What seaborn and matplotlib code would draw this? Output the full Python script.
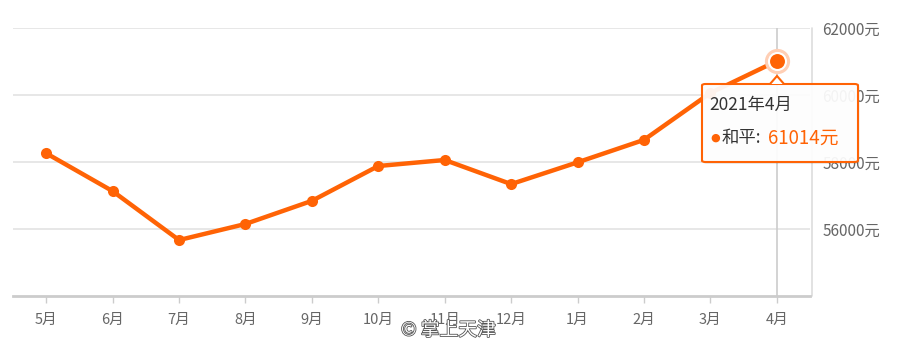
import numpy as np
import pandas as pd
import matplotlib
matplotlib.use("Agg")
import matplotlib.pyplot as plt
import matplotlib.patheffects as pe
from matplotlib.patches import FancyBboxPatch, Polygon
import seaborn as sns

months = ["5月", "6月", "7月", "8月", "9月", "10月", "11月", "12月", "1月", "2月", "3月", "4月"]
prices = [58260, 57130, 55670, 56150, 56840, 57880, 58060, 57340, 57990, 58660, 60060, 61014]
y_ticks = [56000, 58000, 60000, 62000]
y_labels = ["56000元", "58000元", "60000元", "62000元"]
tooltip_title = "2021年4月"
series_name = "和平"

sns.set_theme(style="white")
plt.rcParams["font.family"] = ["Noto Sans CJK SC", "DejaVu Sans"]

ORANGE = "#ff6305"
GRID = "#e3e3e3"
TXT = "#666666"

fig = plt.figure(figsize=(9, 3.44), dpi=100)
ax = fig.add_axes([13/900, 1-296/344, (810-13)/900, (296-28)/344])

df = pd.DataFrame({"month": months, "price": prices})
df["pos"] = np.arange(len(months))
sns.lineplot(data=df, x="pos", y="price", ax=ax, color=ORANGE, linewidth=3.2,
             marker="o", markersize=8, markeredgewidth=0, zorder=3)

ax.set_xlim(-0.5, len(months) - 0.5)
ax.set_ylim(54000, 62000)
ax.set_xticks(df["pos"])
ax.set_xticklabels(months, fontsize=10.5, color=TXT)
ax.set_xlabel("")
ax.set_ylabel("")
ax.yaxis.tick_right()
ax.set_yticks(y_ticks)
ax.set_yticklabels(y_labels, fontsize=11, color=TXT)
ax.tick_params(axis="y", length=0, pad=9)
ax.tick_params(axis="x", length=5, width=1, color="#cccccc", direction="out", pad=7, bottom=True)
for yv in y_ticks:
    ax.axhline(yv, color=GRID, linewidth=1.2, zorder=0)
for s in ["top", "left", "right"]:
    ax.spines[s].set_visible(False)
ax.spines["bottom"].set_color("#cccccc")
ax.spines["bottom"].set_linewidth(2)
# right frame line
ax.plot([1.003, 1.003], [0, 1], transform=ax.transAxes, color="#dddddd", lw=1.2, clip_on=False)

# crosshair and highlight at last point
last = len(months) - 1
ax.axvline(last, color="#cccccc", linewidth=1.2, zorder=1)
ax.scatter([last], [prices[-1]], s=330, color="#ffcfb5", zorder=4, linewidths=0)
ax.scatter([last], [prices[-1]], s=150, color=ORANGE, edgecolors="white", linewidths=1.5, zorder=5)

# tooltip
x0, x1, yt, yb = 702/900, 858/900, 1-84/344, 1-162/344
shadow = FancyBboxPatch((x0 + 1.5/900, yb - 2/344), x1-x0, yt-yb, boxstyle="round,pad=0,rounding_size=0.004",
                        transform=fig.transFigure, facecolor=(0, 0, 0, 0.08), edgecolor="none", zorder=9)
fig.patches.append(shadow)
box = FancyBboxPatch((x0, yb), x1-x0, yt-yb, boxstyle="round,pad=0,rounding_size=0.004",
                     transform=fig.transFigure, facecolor=(1, 1, 1, 0.93), edgecolor=ORANGE,
                     linewidth=1.5, zorder=10)
fig.patches.append(box)
tri = Polygon([(770/900, yt), (777/900, 1-76/344), (784/900, yt)], closed=False,
              transform=fig.transFigure, facecolor="white", edgecolor=ORANGE, linewidth=1.5, zorder=11)
fig.patches.append(tri)
fig.text(709/900, 1-105/344, tooltip_title, fontsize=12.5, color="#333333", va="center", ha="left", zorder=12)
fig.text(715/900, 1-138/344, "●", fontsize=8, color=ORANGE, va="center", ha="center",
         family=["DejaVu Sans"], zorder=12)
fig.text(722/900, 1-138/344, series_name + ":", fontsize=12.5, color="#333333", va="center", ha="left", zorder=12)
fig.text(768/900, 1-138/344, f"{prices[-1]}元", fontsize=13.5, color=ORANGE, va="center", ha="left", zorder=12)

# watermark
fig.text(401/900, 1-330/344, "© 掌上天津", fontsize=13.5, color="white", va="center", ha="left",
         path_effects=[pe.withStroke(linewidth=1.2, foreground="#555555")], zorder=20)

fig.savefig("out.png", dpi=100)
